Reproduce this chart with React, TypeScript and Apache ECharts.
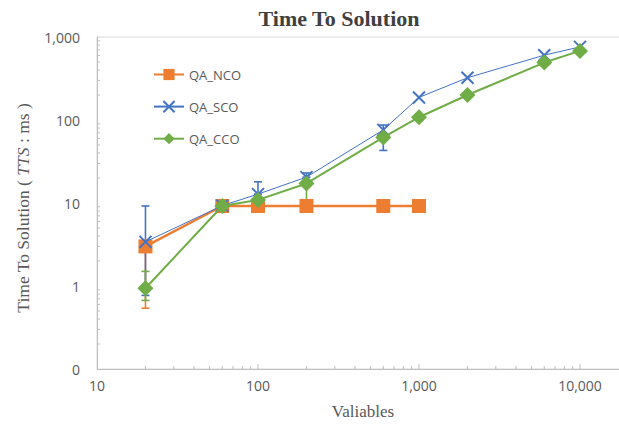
import React, { useEffect, useRef } from "react";
import * as echarts from "echarts";

const xValues = [20, 60, 100, 200, 600, 1000, 2000, 6000, 10000];
const ncoValues = [3.0, 9.2, 9.2, 9.2, 9.2, 9.2];
const scoValues = [3.4, 9.3, 12.8, 20.5, 76, 187, 323, 604, 760];
const ccoValues = [0.94, 9.2, 10.9, 17.2, 61.7, 108, 200, 492, 680];

// error bars: [x, low, high]
const ncoErrors = [[20, 0.54, 3.0]];
const scoErrors = [
  [20, 0.77, 9.2],
  [100, 12.8, 18],
  [200, 20.5, 23],
  [600, 43, 87],
];
const ccoErrors = [
  [20, 0.67, 1.5],
  [200, 10, 17.2],
];

const xMinorTicks = [20, 30, 40, 50, 60, 70, 80, 90, 200, 300, 400, 500, 600, 700, 800, 900, 2000, 3000, 4000, 5000, 6000, 7000, 8000, 9000];
const xMajorTicks = [100, 1000, 10000];
const yMinorTicks = [0.2, 0.3, 0.4, 0.5, 0.6, 0.7, 0.8, 0.9, 2, 3, 4, 5, 6, 7, 8, 9, 20, 30, 40, 50, 60, 70, 80, 90, 200, 300, 400, 500, 600, 700, 800, 900];

const ORANGE = "#ED7D31";
const BLUE = "#4472C4";
const GREEN = "#70AD47";
const SANS = "'Open Sans', 'Noto Sans', sans-serif";
const SERIF = "'Liberation Serif', 'DejaVu Serif', serif";

function errorSeries(name: string, data: number[][], color: string) {
  return {
    type: "custom",
    name: name + "_err",
    silent: true,
    clip: false,
    z: 3,
    data,
    renderItem: (_p: any, api: any) => {
      const x = api.value(0);
      const lo = api.value(1);
      const hi = api.value(2);
      const a = api.coord([x, hi]);
      const b = api.coord([x, lo]);
      const w = 4;
      const st = { stroke: color, lineWidth: 1.6 };
      return {
        type: "group",
        children: [
          { type: "line", shape: { x1: a[0], y1: a[1], x2: b[0], y2: b[1] }, style: st },
          { type: "line", shape: { x1: a[0] - w, y1: a[1], x2: a[0] + w, y2: a[1] }, style: st },
          { type: "line", shape: { x1: b[0] - w, y1: b[1], x2: b[0] + w, y2: b[1] }, style: st },
        ],
      };
    },
  };
}

function tickSeries(data: number[][], dir: "x" | "y", len: number) {
  return {
    type: "custom",
    silent: true,
    clip: false,
    z: 1,
    data,
    renderItem: (_p: any, api: any) => {
      const p = api.coord([api.value(0), api.value(1)]);
      const shape =
        dir === "x"
          ? { x1: p[0], y1: p[1], x2: p[0], y2: p[1] - len }
          : { x1: p[0], y1: p[1], x2: p[0] + len, y2: p[1] };
      return { type: "line", shape, style: { stroke: "#bfbfbf", lineWidth: 1 } };
    },
  };
}

export default function App() {
  const ref = useRef<HTMLDivElement>(null);
  useEffect(() => {
    document.body.style.margin = "0";
    const chart = echarts.init(ref.current!, null, { renderer: "svg" });
    const fmt = (v: number) => {
      const r = Math.round(v);
      return r.toLocaleString("en-US");
    };
    const xfmt = (v: number) => (v > 10001 ? "" : fmt(v));
    chart.setOption({
      animation: false,
      backgroundColor: "#ffffff",
      grid: {
        left: 97,
        top: 37,
        height: 332,
        width: 644,
        show: true,
        borderColor: "#d9d9d9",
        borderWidth: 1,
        containLabel: false,
        outerBoundsMode: "none",
      },
      graphic: [
        {
          type: "text",
          x: 339,
          y: 18,
          style: {
            text: "Time To Solution",
            font: `bold 22px ${SERIF}`,
            fill: "#404040",
            textAlign: "center",
            textVerticalAlign: "middle",
          },
        },
        {
          type: "text",
          x: 363,
          y: 411,
          style: {
            text: "Valiables",
            font: `17px ${SERIF}`,
            fill: "#595959",
            textAlign: "center",
            textVerticalAlign: "middle",
          },
        },
        {
          type: "text",
          x: 23,
          y: 208,
          rotation: Math.PI / 2,
          style: {
            text: "{a|Time To Solution ( }{b|TTS}{a| : ms )}",
            textAlign: "center",
            textVerticalAlign: "middle",
            rich: {
              a: { fontFamily: SERIF, fontSize: 17.5, fill: "#595959", color: "#595959" },
              b: { fontFamily: SERIF, fontSize: 17.5, fontStyle: "italic", fill: "#595959", color: "#595959" },
            },
          },
        },
      ],
      legend: {
        orient: "vertical",
        left: 148,
        top: 63,
        itemWidth: 30,
        itemHeight: 14,
        itemGap: 19,
        data: ["QA_NCO", "QA_SCO", "QA_CCO"],
        textStyle: { fontFamily: SANS, fontSize: 13, color: "#595959" },
      },
      xAxis: {
        type: "log",
        logBase: 10,
        min: 10,
        max: 100000,
        axisLine: { show: true, lineStyle: { color: "#bfbfbf" } },
        axisTick: { show: false },
        splitLine: { show: false },
        axisLabel: {
          formatter: xfmt,
          fontFamily: SANS,
          fontSize: 14,
          color: "#595959",
          margin: 9,
        },
      },
      yAxis: {
        type: "log",
        logBase: 10,
        min: 0.1,
        max: 1000,
        axisLine: { show: true, lineStyle: { color: "#bfbfbf" } },
        axisTick: { show: false },
        splitLine: { show: false },
        axisLabel: {
          formatter: fmt,
          fontFamily: SANS,
          fontSize: 14,
          color: "#595959",
          margin: 17,
        },
      },
      series: [
        tickSeries(xMinorTicks.map((v) => [v, 0.1]), "x", 3),
        tickSeries(xMajorTicks.map((v) => [v, 0.1]), "x", 5),
        tickSeries(yMinorTicks.map((v) => [10, v]), "y", 3),
        errorSeries("QA_NCO", ncoErrors, ORANGE),
        {
          type: "line",
          name: "QA_NCO",
          data: ncoValues.map((v, i) => [xValues[i], v]),
          color: ORANGE,
          symbol: "rect",
          symbolSize: 14,
          lineStyle: { width: 2.5, color: ORANGE },
          itemStyle: { color: ORANGE },
          z: 4,
        },
        errorSeries("QA_SCO", scoErrors, BLUE),
        {
          type: "line",
          name: "QA_SCO",
          data: scoValues.map((v, i) => [xValues[i], v]),
          color: BLUE,
          symbol: "path://M0,0L10,10M10,0L0,10",
          symbolSize: 12,
          lineStyle: { width: 1, color: BLUE },
          itemStyle: { color: BLUE, borderColor: BLUE, borderWidth: 2 },
          z: 5,
        },
        errorSeries("QA_CCO", ccoErrors, GREEN),
        {
          type: "line",
          name: "QA_CCO",
          data: ccoValues.map((v, i) => [xValues[i], v]),
          color: GREEN,
          symbol: "diamond",
          symbolSize: 16,
          lineStyle: { width: 2, color: GREEN },
          itemStyle: { color: GREEN },
          z: 6,
        },
      ],
    });
    return () => chart.dispose();
  }, []);
  return <div ref={ref} style={{ width: 619, height: 426 }} />;
}
